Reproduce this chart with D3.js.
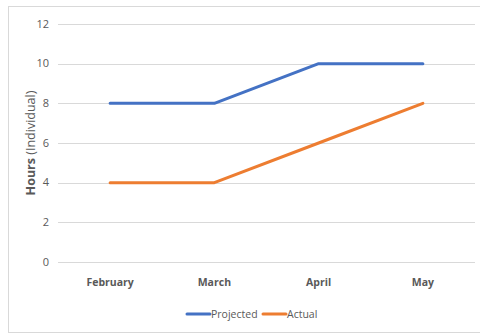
<!DOCTYPE html>
<html>
<head>
<meta charset="utf-8">
<script src="https://cdn.jsdelivr.net/npm/d3@7"></script>
<style>
  body { margin: 0; background: #fff; }
  text { font-family: "Liberation Sans Narrow", "Open Sans", sans-serif; fill: #595959; }
</style>
</head>
<body>
<svg id="chart" width="480" height="335"></svg>
<script>
const months = ["February", "March", "April", "May"];
const projected = [8, 8, 10, 10];
const actual = [4, 4, 6, 8];
const yTicks = [0, 2, 4, 6, 8, 10, 12];
const seriesNames = ["Projected", "Actual"];
const seriesColors = ["#4472C4", "#ED7D31"];

const svg = d3.select("#chart");

// outer frame
svg.append("rect")
    .attr("x", 8.5).attr("y", 6.5)
    .attr("width", 480).attr("height", 326)
    .style("fill", "none")
    .style("stroke", "#d9d9d9");

const x = d3.scaleBand().domain(months).range([58, 475]);
const y = d3.scaleLinear().domain([0, 12]).range([262, 24]);

// gridlines
svg.selectAll(".grid")
    .data(yTicks).enter()
    .append("line")
    .attr("x1", 58).attr("x2", 475)
    .attr("y1", d => Math.round(y(d)) + 0.5)
    .attr("y2", d => Math.round(y(d)) + 0.5)
    .style("stroke", "#d9d9d9")
    .style("stroke-width", 1);

// y tick labels
svg.selectAll(".ytick")
    .data(yTicks).enter()
    .append("text")
    .attr("x", 49)
    .attr("y", d => y(d) + 3.5)
    .attr("text-anchor", "end")
    .style("font-size", "11px")
    .text(d => d);

// x labels
svg.selectAll(".xtick")
    .data(months).enter()
    .append("text")
    .attr("x", d => x(d) + x.bandwidth() / 2)
    .attr("y", 286)
    .attr("text-anchor", "middle")
    .style("font-size", "10.5px")
    .style("font-weight", "bold")
    .text(d => d);

// y axis title
const title = svg.append("text")
    .attr("transform", "translate(35,143) rotate(-90)")
    .attr("text-anchor", "middle")
    .style("font-family", "'Open Sans', sans-serif")
    .style("font-size", "12.5px");
title.append("tspan").style("font-weight", "bold").text("Hours ");
title.append("tspan").style("font-weight", "normal").text("(Individual)");

const line = d3.line()
    .x((d, i) => x(months[i]) + x.bandwidth() / 2)
    .y(d => y(d));

[projected, actual].forEach((vals, k) => {
    svg.append("path")
        .datum(vals)
        .attr("d", line)
        .style("fill", "none")
        .style("stroke", seriesColors[k])
        .style("stroke-width", 3)
        .style("stroke-linecap", "round")
        .style("stroke-linejoin", "round");
});

// legend
const legend = svg.selectAll(".legend")
    .data(seriesNames).enter()
    .append("g")
    .attr("transform", (d, i) => "translate(" + (187 + i * 76) + ",314)");

legend.append("line")
    .attr("x1", 0).attr("x2", 23)
    .attr("y1", 0).attr("y2", 0)
    .style("stroke", (d, i) => seriesColors[i])
    .style("stroke-width", 3)
    .style("stroke-linecap", "round");

legend.append("text")
    .attr("x", 24)
    .attr("y", 3.5)
    .style("font-size", "10.5px")
    .text(d => d);
</script>
</body>
</html>
